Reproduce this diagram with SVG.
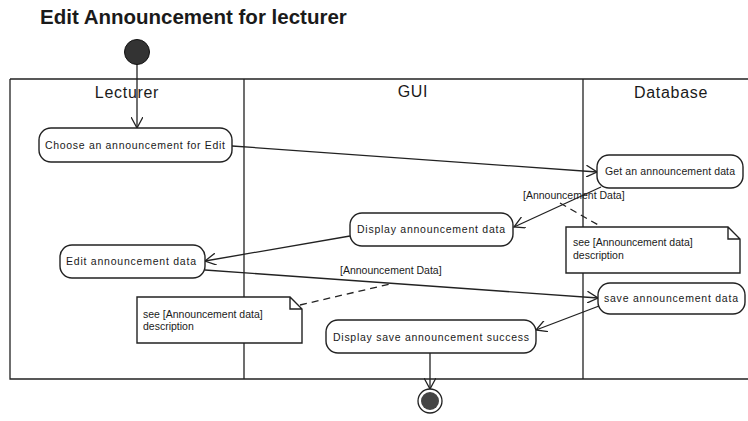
<svg xmlns="http://www.w3.org/2000/svg" width="748" height="421" viewBox="0 0 748 421">
<defs>
<style>
.t{font-family:"Liberation Sans",Arial,sans-serif;fill:#1a1a1a}
.title{font-size:20.5px;font-weight:bold}
.lane{font-size:16px;letter-spacing:0.7px}
.n{font-size:10.5px}
.box{fill:#fff;stroke:#222;stroke-width:1.4}
.ln{fill:none;stroke:#222;stroke-width:1.3}
.dash{fill:none;stroke:#222;stroke-width:1.3;stroke-dasharray:7,5}
</style>
<marker id="a" viewBox="0 0 12 12" refX="11" refY="6" markerWidth="12" markerHeight="12" markerUnits="userSpaceOnUse" orient="auto">
<path d="M0,0 L11,6 L0,12" fill="none" stroke="#222" stroke-width="1.3"/>
</marker>
</defs>
<rect width="748" height="421" fill="#fff"/>
<text class="t title" x="40" y="24">Edit Announcement for lecturer</text>
<g id="swimlanes">
<path class="ln" d="M10,79 H748 M10,79 V379 H748 M244,79 V379 M583,79 V379"/>
<text class="t lane" x="127" y="98" text-anchor="middle">Lecturer</text>
<text class="t lane" x="413" y="97" text-anchor="middle">GUI</text>
<text class="t lane" x="671" y="98" text-anchor="middle">Database</text>
</g>
<g id="connectors">
<path class="ln" d="M137,60 V128" marker-end="url(#a)"/>
<path class="ln" d="M232,146 L597,172" marker-end="url(#a)"/>
<path class="ln" d="M601,187 L514,227" marker-end="url(#a)"/>
<path class="ln" d="M350,236 L205,261" marker-end="url(#a)"/>
<path class="ln" d="M205,270 L598,298" marker-end="url(#a)"/>
<path class="ln" d="M599,306 L536,330" marker-end="url(#a)"/>
<path class="ln" d="M430,353 V389" marker-end="url(#a)"/>
<path class="dash" d="M560,203 L600,226"/>
<path class="dash" d="M300,305 L390,284"/>
<text class="t n" x="523" y="199">[Announcement Data]</text>
<text class="t n" x="340" y="274">[Announcement Data]</text>
</g>
<g id="start"><circle cx="137" cy="52" r="12.5" fill="#333" stroke="#111"/></g>
<g id="choose">
<rect class="box" x="39" y="128" width="193" height="34" rx="12"/>
<text class="t n" x="45" y="149" textLength="180">Choose an announcement for Edit</text>
</g>
<g id="get">
<rect class="box" x="597" y="155" width="146" height="33" rx="12"/>
<text class="t n" x="605" y="175" textLength="130">Get an announcement data</text>
</g>
<g id="display">
<rect class="box" x="350" y="213" width="163" height="33" rx="12"/>
<text class="t n" x="357" y="233" textLength="148">Display announcement data</text>
</g>
<g id="note-right">
<path class="box" d="M566,227 H728 L740,239 V273 H566 Z M728,227 V239 H740"/>
<text class="t n" x="573" y="246">see [Announcement data]</text>
<text class="t n" x="573" y="259"> description</text>
</g>
<g id="edit">
<rect class="box" x="60" y="245" width="145" height="33" rx="12"/>
<text class="t n" x="66" y="265" textLength="130">Edit announcement data</text>
</g>
<g id="save">
<rect class="box" x="598" y="283" width="147" height="31" rx="12"/>
<text class="t n" x="604" y="302" textLength="134">save announcement data</text>
</g>
<g id="note-left">
<path class="box" d="M137,297 H290 L302,309 V343 H137 Z M290,297 V309 H302"/>
<text class="t n" x="143" y="318">see [Announcement data]</text>
<text class="t n" x="143" y="330"> description</text>
</g>
<g id="display-success">
<rect class="box" x="326" y="320" width="210" height="33" rx="12"/>
<text class="t n" x="333" y="341" textLength="196">Display save announcement success</text>
</g>
<g id="end">
<circle cx="430" cy="401" r="12" fill="#fff" stroke="#222" stroke-width="1.3"/>
<circle cx="430" cy="401" r="9" fill="#444"/>
</g>
</svg>
